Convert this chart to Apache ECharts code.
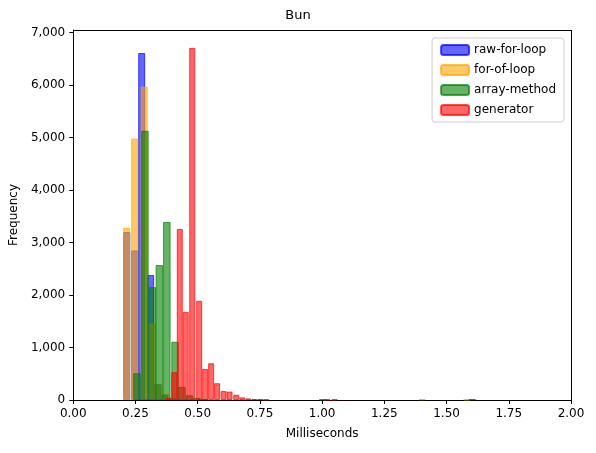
<!DOCTYPE html>
<html><head><meta charset="utf-8">
<script src="https://cdn.jsdelivr.net/npm/echarts@6/dist/echarts.min.js"></script>
<style>html,body{margin:0;padding:0;background:#fff}#c{width:596px;height:453px}</style>
</head><body><div id="c"></div>
<script>
const seriesNames = ['raw-for-loop','for-of-loop','array-method','generator'];
const rawX = [0.213,0.245,0.273,0.309,0.337,0.365,0.393];
const rawY = [3200,2850,6610,2380,300,100,40];
const forX = [0.213,0.245,0.283,0.315,0.343,0.371,0.399,1.40,1.58];
const forY = [3280,4980,5970,1460,300,110,40,15,10];
const arrX = [0.253,0.285,0.315,0.343,0.373,0.406,0.434,0.464,0.494,0.524,1.0,1.6];
const arrY = [510,5130,2150,2570,3390,1110,250,90,40,20,10,15];
const genX = [0.382,0.406,0.428,0.452,0.478,0.506,0.53,0.554,0.578,0.604,0.628,0.655,0.679,0.703,0.727,0.751,0.775,1.02,1.05];
const genY = [40,530,3260,1680,6710,1890,590,700,320,170,160,100,50,30,20,15,10,10,8];
const colors = ['rgba(0,0,255,0.6)','rgba(255,165,0,0.6)','rgba(0,128,0,0.6)','rgba(255,0,0,0.6)'];
const borders = ['rgba(0,0,255,0.7)','rgba(255,165,0,0.7)','rgba(0,128,0,0.7)','rgba(255,0,0,0.7)'];
const widths = [7,7,7.5,6];
const xs=[rawX,forX,arrX,genX], ys=[rawY,forY,arrY,genY];
const chart = echarts.init(document.getElementById('c'));
const font = 'DejaVu Sans';
chart.setOption({
  animation:false,
  title:{text:'Bun',left:'center',top:4,textStyle:{fontFamily:font,fontSize:13,fontWeight:'normal',color:'#000'}},
  legend:{orient:'vertical',right:32,top:38,itemWidth:28,itemHeight:10,itemGap:8,padding:[6,8],
    borderColor:'#ccc',borderWidth:1,borderRadius:3,
    textStyle:{fontFamily:font,fontSize:12,color:'#000'},data:seriesNames},
  grid:{left:73,right:25,top:30,bottom:53},
  xAxis:{type:'value',min:0,max:2,interval:0.25,name:'Milliseconds',nameLocation:'middle',nameGap:28,
    nameTextStyle:{fontFamily:font,fontSize:12,color:'#000'},
    axisLine:{lineStyle:{color:'#000'}},axisTick:{show:true,length:4,lineStyle:{color:'#000'}},
    axisLabel:{fontFamily:font,fontSize:12,color:'#000',formatter:v=>v.toFixed(2)},splitLine:{show:false}},
  yAxis:{type:'value',min:0,max:7050,interval:1000,name:'Frequency',nameLocation:'middle',nameGap:48,
    nameTextStyle:{fontFamily:font,fontSize:12,color:'#000'},
    axisLine:{show:true,lineStyle:{color:'#000'}},axisTick:{show:true,length:4,lineStyle:{color:'#000'}},
    axisLabel:{fontFamily:font,fontSize:12,color:'#000'},splitLine:{show:false}},
  series: seriesNames.map((n,i)=>({
    name:n,type:'bar',barWidth:widths[i],barGap:'-100%',
    itemStyle:{color:colors[i],borderColor:borders[i],borderWidth:1},
    data:xs[i].map((x,j)=>[x,ys[i][j]])
  })).concat([{type:'line',data:[],markLine:{silent:true,symbol:'none',label:{show:false},
    lineStyle:{color:'#000',type:'solid',width:1},data:[{yAxis:7050},{xAxis:2}]}}])
});
</script></body></html>
